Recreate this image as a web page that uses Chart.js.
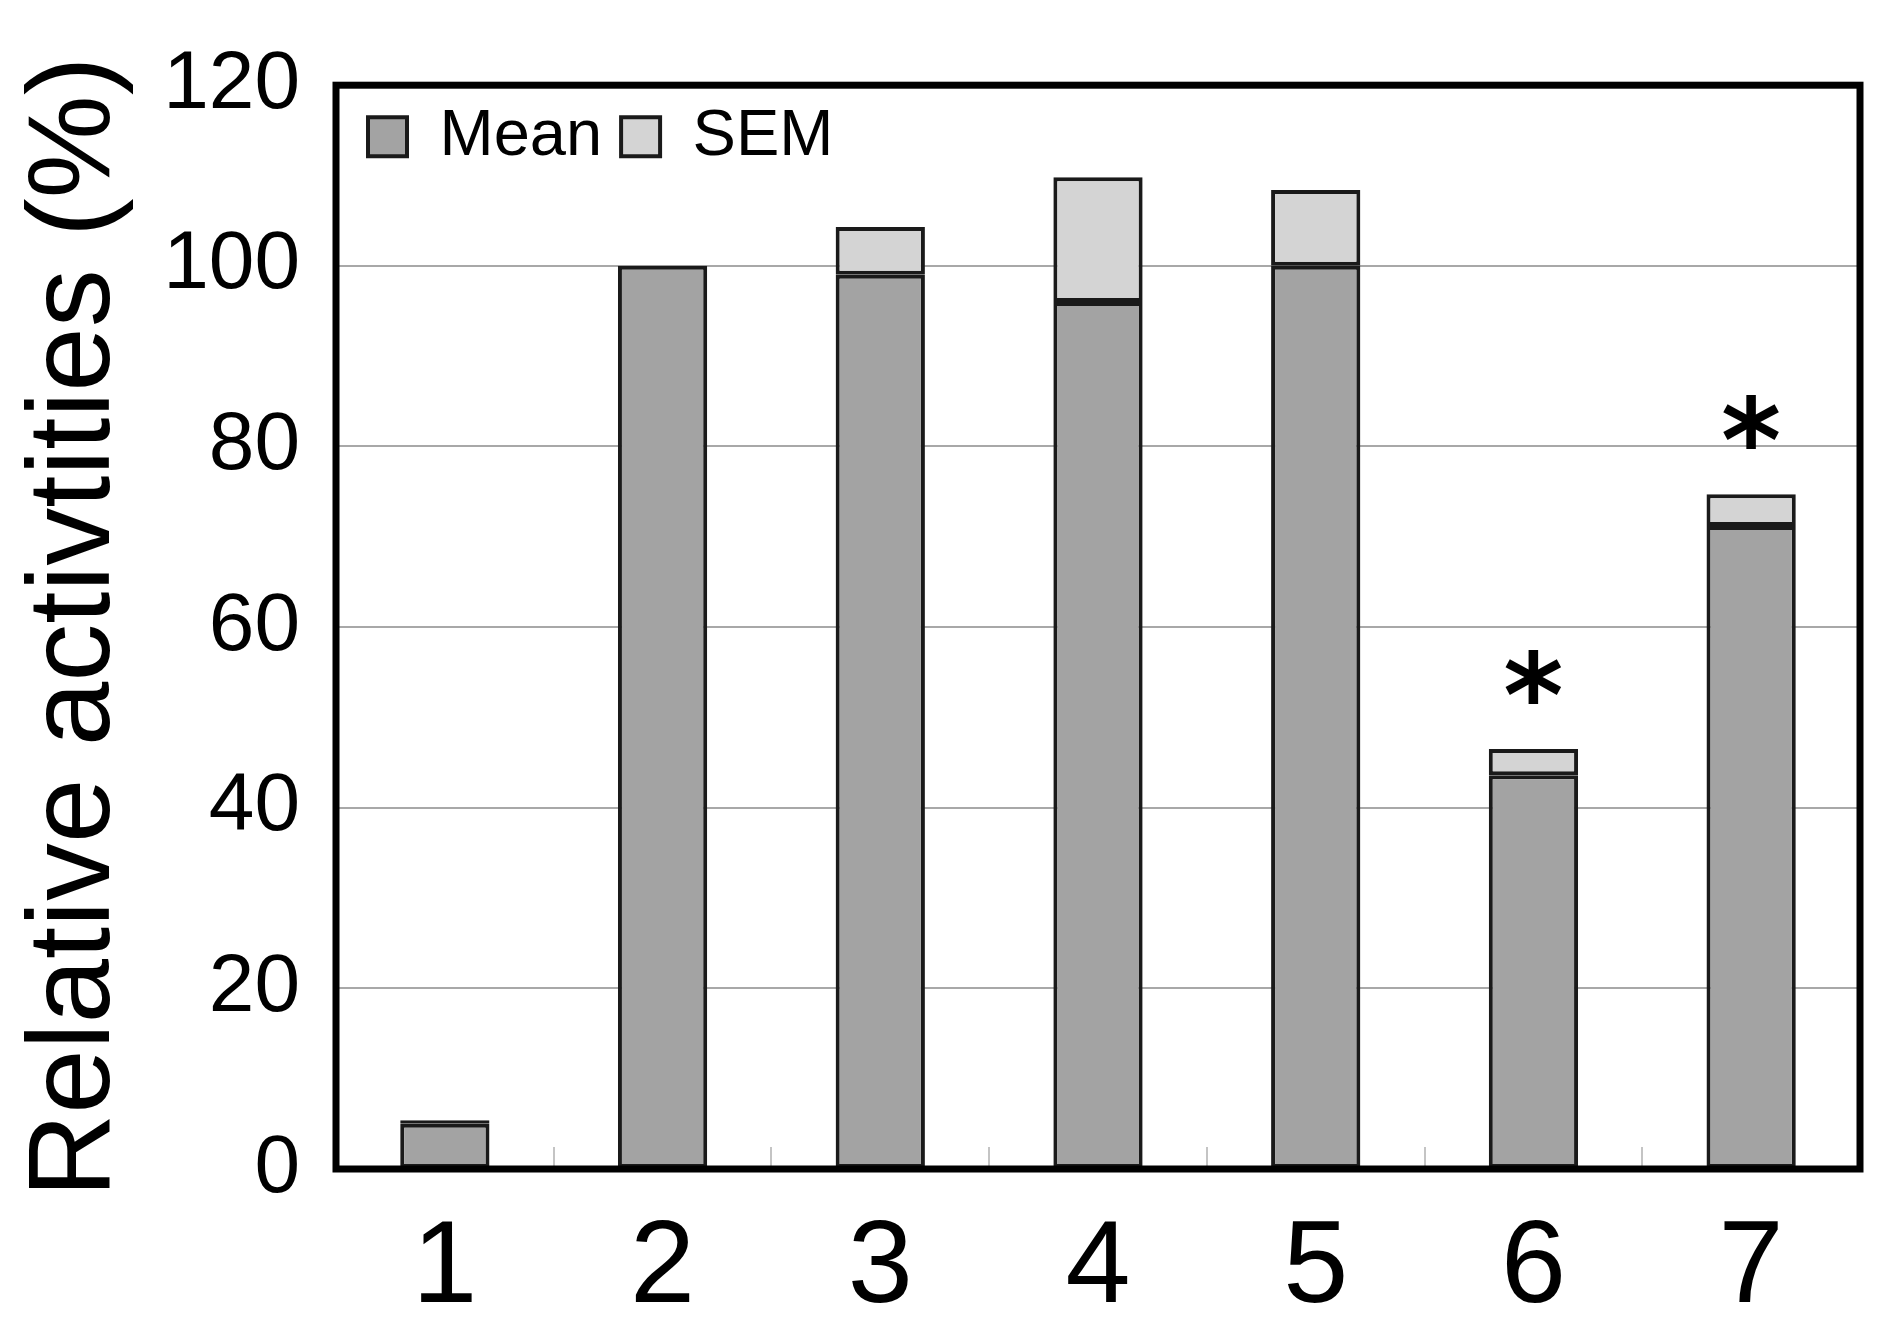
<!DOCTYPE html>
<html>
<head>
<meta charset="utf-8">
<style>
	body { margin: 0; background: #fff; }
</style>
</head>
<body>
<canvas id="chart" width="1882" height="1326"></canvas>
<script src="https://cdn.jsdelivr.net/npm/chart.js@4/dist/chart.umd.min.js"></script>
<script>
	const labels = ["1", "2", "3", "4", "5", "6", "7"];
	const meanValues = [5, 100, 99, 96, 100, 43.6, 71.2];
	const semValues = [0.4, 0, 5.3, 13.8, 8.4, 2.9, 3.5];
	const significant = [false, false, false, false, false, true, true];

	const font = "'Liberation Sans', Arial, sans-serif";

	// keep the legend in one row inside the plot frame
	const legendInside = {
		id: "legendInside",
		afterInit(chart) {
			chart.legend.isHorizontal = () => true;
		},
		afterLayout(chart) {
			const legend = chart.legend;
			const area = chart.chartArea;
			legend.left = area.left + 13;
			legend.right = area.right;
			legend.top = area.top;
			legend.bottom = area.top + legend.height;
		},
	};

	const frameAndStars = {
		id: "frameAndStars",
		afterDraw(chart) {
			const ctx = chart.ctx;
			const area = chart.chartArea;
			ctx.save();
			ctx.strokeStyle = "#000";
			ctx.lineWidth = 7;
			ctx.strokeRect(area.left, area.top, area.right - area.left, area.bottom - area.top);

			ctx.fillStyle = "#000";
			ctx.font = "bold 115px 'DejaVu Sans', sans-serif";
			ctx.textAlign = "center";
			ctx.textBaseline = "alphabetic";
			const m = ctx.measureText("*");
			const half = (m.actualBoundingBoxAscent - m.actualBoundingBoxDescent) / 2;
			const meta = chart.getDatasetMeta(1);
			significant.forEach((s, i) => {
				if (!s) return;
				const bar = meta.data[i];
				ctx.fillText("*", bar.x, bar.y - 72 + half);
			});
			ctx.restore();
		},
	};

	new Chart(document.getElementById("chart"), {
		type: "bar",
		data: {
			labels: labels,
			datasets: [
				{
					label: "Mean",
					data: meanValues,
					backgroundColor: "#a3a3a3",
					borderColor: "#1a1a1a",
					borderWidth: 4,
					borderSkipped: false,
					stack: "a",
				},
				{
					label: "SEM",
					data: semValues,
					backgroundColor: "#d4d4d4",
					borderColor: "#1a1a1a",
					borderWidth: 4,
					borderSkipped: false,
					stack: "a",
				},
			],
		},
		options: {
			responsive: false,
			animation: false,
			devicePixelRatio: 1,
			barPercentage: 0.41,
			categoryPercentage: 1,
			layout: {
				padding: { left: 7, right: 22, top: 81, bottom: 0 },
			},
			plugins: {
				legend: {
					position: "chartArea",
					align: "start",
					labels: {
						boxWidth: 39,
						boxHeight: 39,
						padding: 19,
						color: "#000",
						font: { family: font, size: 65 },
					},
				},
				tooltip: { enabled: false },
			},
			scales: {
				x: {
					stacked: true,
					offset: true,
					border: { display: false },
					grid: {
						offset: true,
						drawOnChartArea: false,
						drawTicks: true,
						tickLength: -22,
						color: "#c4c4c4",
						lineWidth: 2,
					},
					ticks: {
						color: "#000",
						padding: 53,
						font: { family: font, size: 117 },
					},
					afterFit(scale) {
						scale.height = 157;
					},
				},
				y: {
					stacked: true,
					min: 0,
					max: 120,
					border: { display: false },
					grid: {
						color: "#a8a8a8",
						lineWidth: 2,
						drawTicks: false,
					},
					ticks: {
						stepSize: 20,
						color: "#000",
						padding: 36,
						font: { family: font, size: 82 },
					},
					title: {
						display: true,
						text: "Relative activtities (%)",
						color: "#000",
						padding: { top: 0, bottom: 0 },
						font: { family: font, size: 116 },
					},
					afterFit(scale) {
						scale.width = 329;
					},
				},
			},
		},
		plugins: [legendInside, frameAndStars],
	});
</script>
</body>
</html>
